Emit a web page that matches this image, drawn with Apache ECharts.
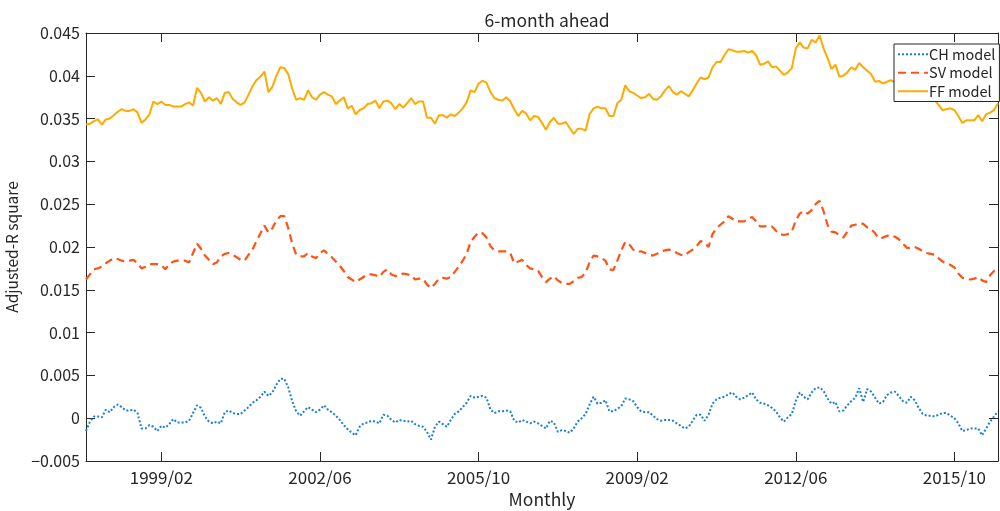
<!DOCTYPE html>
<html>
<head>
<meta charset="utf-8">
<script src="https://cdn.jsdelivr.net/npm/echarts@6/dist/echarts.min.js"></script>
<style>html,body{margin:0;padding:0;background:#fff}#c{width:1000px;height:511px}</style>
</head>
<body>
<div id="c"></div>
<script>
// Monthly categories 1997/07 .. 2016/09
const startYear = 1997, startMonth = 7, nMonths = 231;
const months = [];
for (let k = 0; k < nMonths; k++) {
  const m = startMonth - 1 + k;
  const y = startYear + Math.floor(m / 12);
  const mm = (m % 12) + 1;
  months.push(y + '/' + (mm < 10 ? '0' + mm : mm));
}
const tickLabels = ['1999/02', '2002/06', '2005/10', '2009/02', '2012/06', '2015/10'];

const chModel = [
-0.0015,-0.0004,0.0002,0.0002,0.0001,0.0010,0.0007,0.0013,0.0016,0.0013,
0.0009,0.0009,0.0010,0.0006,-0.0012,-0.0012,-0.0008,-0.0010,-0.0015,-0.0009,
-0.0011,-0.0007,-0.0001,-0.0005,-0.0005,-0.0005,-0.0003,0.0006,0.0015,0.0012,
0.0002,-0.0004,-0.0006,-0.0004,-0.0006,0.0007,0.0009,0.0006,0.0005,0.0005,
0.0009,0.0013,0.0018,0.0021,0.0025,0.0031,0.0026,0.0030,0.0039,0.0046,
0.0046,0.0036,0.0020,0.0008,0.0003,0.0008,0.0013,0.0010,0.0007,0.0010,
0.0015,0.0010,0.0007,0.0003,-0.0002,-0.0008,-0.0013,-0.0017,-0.0020,-0.0010,
-0.0006,-0.0005,-0.0003,-0.0004,-0.0006,0.0004,0.0003,-0.0002,-0.0005,-0.0002,
-0.0003,-0.0004,-0.0003,-0.0007,-0.0009,-0.0010,-0.0016,-0.0025,-0.0010,-0.0004,
-0.0007,-0.0010,-0.0002,0.0005,0.0008,0.0013,0.0018,0.0026,0.0024,0.0025,
0.0026,0.0024,0.0010,0.0006,0.0008,0.0008,0.0009,0.0008,-0.0003,-0.0005,
-0.0002,-0.0004,-0.0006,-0.0004,-0.0006,-0.0009,-0.0012,-0.0003,-0.0005,-0.0016,
-0.0014,-0.0015,-0.0017,-0.0012,-0.0004,0.0000,0.0005,0.0016,0.0025,0.0017,
0.0018,0.0021,0.0008,0.0008,0.0011,0.0014,0.0023,0.0022,0.0020,0.0013,
0.0008,0.0007,0.0007,0.0003,-0.0001,-0.0003,-0.0002,-0.0002,-0.0003,-0.0006,
-0.0009,-0.0012,-0.0010,-0.0003,0.0004,0.0004,-0.0003,0.0004,0.0017,0.0022,
0.0024,0.0025,0.0028,0.0030,0.0025,0.0022,0.0024,0.0027,0.0030,0.0022,
0.0018,0.0017,0.0015,0.0012,0.0008,0.0001,-0.0004,0.0001,0.0005,0.0020,
0.0030,0.0025,0.0022,0.0030,0.0035,0.0036,0.0032,0.0023,0.0017,0.0019,
0.0008,0.0009,0.0015,0.0020,0.0024,0.0035,0.0019,0.0034,0.0031,0.0024,
0.0017,0.0019,0.0027,0.0030,0.0031,0.0026,0.0020,0.0018,0.0025,0.0021,
0.0012,0.0005,0.0003,0.0003,0.0002,0.0004,0.0006,0.0006,0.0003,0.0000,
-0.0006,-0.0015,-0.0014,-0.0012,-0.0012,-0.0012,-0.0020,-0.0012,-0.0004,0.0002,
0.0008
];

const svModel = [
0.0162,0.0168,0.0174,0.0175,0.0177,0.0181,0.0184,0.0187,0.0186,0.0184,
0.0183,0.0184,0.0185,0.0181,0.0175,0.0177,0.0180,0.0180,0.0180,0.0179,
0.0174,0.0180,0.0183,0.0184,0.0184,0.0184,0.0182,0.0193,0.0204,0.0198,
0.0190,0.0185,0.0180,0.0182,0.0189,0.0192,0.0193,0.0191,0.0188,0.0185,
0.0184,0.0191,0.0197,0.0207,0.0216,0.0225,0.0217,0.0222,0.0231,0.0236,
0.0236,0.0222,0.0204,0.0191,0.0189,0.0189,0.0193,0.0189,0.0187,0.0193,
0.0196,0.0192,0.0188,0.0183,0.0178,0.0172,0.0165,0.0162,0.0159,0.0162,
0.0165,0.0168,0.0168,0.0167,0.0165,0.0171,0.0174,0.0168,0.0166,0.0167,
0.0169,0.0168,0.0167,0.0162,0.0163,0.0163,0.0156,0.0152,0.0157,0.0163,
0.0164,0.0163,0.0165,0.0171,0.0177,0.0184,0.0192,0.0206,0.0212,0.0217,
0.0216,0.0211,0.0201,0.0196,0.0195,0.0195,0.0195,0.0193,0.0181,0.0183,
0.0185,0.0179,0.0175,0.0174,0.0172,0.0165,0.0159,0.0163,0.0166,0.0161,
0.0158,0.0157,0.0157,0.0160,0.0164,0.0165,0.0170,0.0182,0.0190,0.0189,
0.0187,0.0184,0.0174,0.0173,0.0184,0.0196,0.0206,0.0203,0.0197,0.0194,
0.0195,0.0193,0.0191,0.0190,0.0192,0.0195,0.0196,0.0197,0.0196,0.0193,
0.0191,0.0190,0.0194,0.0197,0.0201,0.0207,0.0205,0.0200,0.0215,0.0222,
0.0226,0.0230,0.0236,0.0233,0.0230,0.0230,0.0230,0.0233,0.0235,0.0230,
0.0224,0.0224,0.0225,0.0224,0.0219,0.0215,0.0214,0.0215,0.0218,0.0231,
0.0239,0.0242,0.0239,0.0243,0.0250,0.0254,0.0242,0.0226,0.0218,0.0217,
0.0214,0.0211,0.0218,0.0225,0.0226,0.0228,0.0227,0.0223,0.0221,0.0216,
0.0210,0.0211,0.0213,0.0214,0.0212,0.0209,0.0204,0.0199,0.0199,0.0200,
0.0198,0.0195,0.0193,0.0192,0.0191,0.0187,0.0183,0.0181,0.0179,0.0176,
0.0169,0.0164,0.0163,0.0162,0.0163,0.0165,0.0161,0.0159,0.0167,0.0172,
0.0175
];

const ffModel = [
0.0343,0.0344,0.0347,0.0349,0.0343,0.0349,0.0350,0.0354,0.0358,0.0361,
0.0359,0.0359,0.0361,0.0357,0.0345,0.0349,0.0355,0.0370,0.0367,0.0370,
0.0366,0.0366,0.0364,0.0364,0.0364,0.0367,0.0369,0.0365,0.0386,0.0380,
0.0370,0.0375,0.0371,0.0374,0.0367,0.0380,0.0381,0.0373,0.0369,0.0366,
0.0369,0.0378,0.0388,0.0395,0.0399,0.0405,0.0381,0.0387,0.0400,0.0410,
0.0409,0.0402,0.0385,0.0372,0.0374,0.0372,0.0383,0.0375,0.0372,0.0378,
0.0381,0.0378,0.0376,0.0367,0.0371,0.0375,0.0362,0.0365,0.0355,0.0360,
0.0362,0.0367,0.0368,0.0371,0.0362,0.0370,0.0371,0.0368,0.0361,0.0367,
0.0363,0.0368,0.0374,0.0367,0.0370,0.0370,0.0351,0.0351,0.0344,0.0354,
0.0354,0.0351,0.0355,0.0353,0.0357,0.0362,0.0369,0.0383,0.0381,0.0391,
0.0394,0.0392,0.0381,0.0374,0.0372,0.0371,0.0375,0.0370,0.0361,0.0353,
0.0359,0.0356,0.0348,0.0353,0.0352,0.0345,0.0337,0.0346,0.0351,0.0344,
0.0344,0.0346,0.0339,0.0332,0.0338,0.0338,0.0336,0.0355,0.0362,0.0364,
0.0362,0.0362,0.0353,0.0353,0.0368,0.0372,0.0389,0.0382,0.0380,0.0377,
0.0374,0.0375,0.0379,0.0373,0.0372,0.0376,0.0383,0.0388,0.0381,0.0378,
0.0382,0.0379,0.0376,0.0383,0.0391,0.0398,0.0396,0.0398,0.0410,0.0416,
0.0416,0.0424,0.0431,0.0430,0.0428,0.0428,0.0429,0.0427,0.0429,0.0424,
0.0413,0.0414,0.0417,0.0410,0.0411,0.0406,0.0401,0.0404,0.0409,0.0432,
0.0439,0.0433,0.0432,0.0442,0.0439,0.0447,0.0432,0.0421,0.0408,0.0413,
0.0399,0.0400,0.0404,0.0410,0.0407,0.0415,0.0410,0.0406,0.0402,0.0393,
0.0394,0.0391,0.0393,0.0395,0.0392,0.0389,0.0385,0.0382,0.0378,0.0376,
0.0374,0.0372,0.0373,0.0371,0.0372,0.0366,0.0360,0.0361,0.0362,0.0360,
0.0353,0.0345,0.0348,0.0348,0.0348,0.0354,0.0347,0.0355,0.0357,0.0360,
0.0368
];

const FONT = '"Noto Sans CJK JP", "Noto Sans", sans-serif';
const TXT = '#262626';
const isTick = (idx, val) => tickLabels.indexOf(val) >= 0;

const chart = echarts.init(document.getElementById('c'), null, {renderer: 'canvas'});
chart.setOption({
  animation: false,
  backgroundColor: '#ffffff',
  textStyle: {fontFamily: FONT},
  title: {
    text: '6-month ahead',
    left: 542, top: 7, textAlign: 'center',
    textStyle: {fontFamily: FONT, fontSize: 17.5, fontWeight: 'normal', color: TXT}
  },
  grid: {left: 86, right: 2, top: 33, bottom: 50, containLabel: false, outerBoundsMode: 'none'},
  legend: {
    orient: 'vertical',
    left: 894, top: 44,
    padding: [3, 4, 3, 3],
    itemGap: 4,
    itemWidth: 30, itemHeight: 14,
    backgroundColor: '#ffffff',
    borderColor: TXT, borderWidth: 1,
    itemStyle: {opacity: 0},
    textStyle: {fontFamily: FONT, fontSize: 14.5, color: TXT, padding: [0, 0, 0, -4]},
    data: ['CH model', 'SV model', 'FF model']
  },
  xAxis: [{
    type: 'category', data: months, boundaryGap: false,
    name: 'Monthly', nameLocation: 'middle', nameGap: 25,
    nameTextStyle: {fontFamily: FONT, fontSize: 17.5, color: TXT},
    axisLine: {show: true, onZero: false, lineStyle: {color: TXT, width: 1}},
    axisTick: {show: true, inside: true, length: 9, interval: isTick, lineStyle: {color: TXT}},
    axisLabel: {interval: isTick, margin: 8, fontFamily: FONT, fontSize: 17, color: TXT},
    splitLine: {show: false}
  }, {
    type: 'category', data: months, boundaryGap: false, position: 'top',
    axisLine: {show: true, onZero: false, lineStyle: {color: TXT, width: 1}},
    axisTick: {show: true, inside: true, length: 9, interval: isTick, lineStyle: {color: TXT}},
    axisLabel: {show: false}, splitLine: {show: false}
  }],
  yAxis: [{
    type: 'value', min: -0.005, max: 0.045, interval: 0.005,
    name: 'Adjusted-R square', nameLocation: 'middle', nameGap: 56,
    nameTextStyle: {fontFamily: FONT, fontSize: 15.5, color: TXT},
    axisLine: {show: true, lineStyle: {color: TXT, width: 1}},
    axisTick: {show: true, inside: true, length: 9, lineStyle: {color: TXT}},
    axisLabel: {
      margin: 6, fontFamily: FONT, fontSize: 16, color: TXT,
      formatter: v => { const r = parseFloat(v.toFixed(3)); return r < 0 ? '\u2212' + Math.abs(r) : String(r); }
    },
    splitLine: {show: false}
  }, {
    type: 'value', min: -0.005, max: 0.045, interval: 0.005, position: 'right',
    axisLine: {show: true, lineStyle: {color: TXT, width: 1}},
    axisTick: {show: true, inside: true, length: 9, lineStyle: {color: TXT}},
    axisLabel: {show: false}, splitLine: {show: false}
  }],
  series: [{
    name: 'CH model', type: 'line', data: chModel, symbol: 'none',
    lineStyle: {color: '#1a7fd2', width: 2, type: [2, 2]},
    itemStyle: {color: '#1a7fd2'}
  }, {
    name: 'SV model', type: 'line', data: svModel, symbol: 'none',
    lineStyle: {color: '#ff5316', width: 2.2, type: [8, 5]},
    itemStyle: {color: '#ff5316'}
  }, {
    name: 'FF model', type: 'line', data: ffModel, symbol: 'none',
    lineStyle: {color: '#ffaa00', width: 2},
    itemStyle: {color: '#ffaa00'}
  }]
});
</script>
</body>
</html>
